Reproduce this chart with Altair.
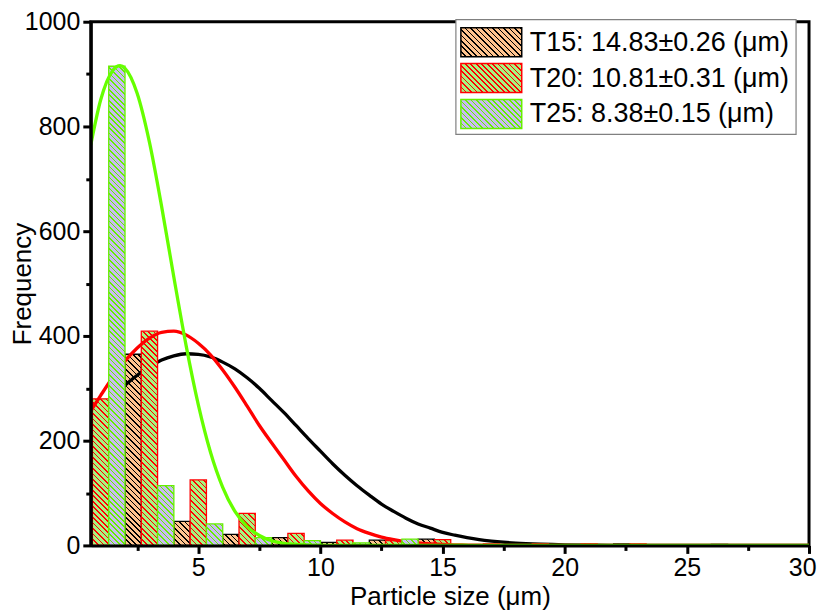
import altair as alt

# ---------------- data ----------------
bin_centers = [1.667, 3.667, 5.667, 7.667, 9.667, 11.667, 13.667,
               15.667, 17.667, 19.667, 21.667, 23.667, 25.667, 27.667]
t15_counts = [365, 46, 21, 15, 6, 10, 12, 1, 1, 0, 3, 0, 2, 0]
t20_counts = [280, 409, 125, 61, 23, 10, 9, 11, 3, 3, 3, 3, 0, 0]
t25_counts = [915, 114, 41, 15, 9, 5, 12, 2, 0, 0, 0, 0, 0, 0]

curve_x = [0.6, 1, 1.5, 1.8, 2, 2.5, 3, 3.5, 4, 4.5, 5, 5.5, 6, 6.5, 7, 7.5,
           8, 8.5, 9, 9.5, 10, 10.5, 11, 11.5, 12, 12.5, 13, 13.5, 14, 14.5,
           15, 15.5, 16, 16.5, 17, 18, 19, 20, 22, 24, 26, 28, 30]
t15_fit = [242, 261, 285, 298, 306, 325, 341, 354, 362, 366, 365, 360, 350, 337,
           320, 300, 277, 254, 229, 204, 180, 156, 134, 114, 96, 79, 65, 52, 41,
           33, 25, 19.5, 14.8, 11, 8.2, 4.3, 2.2, 1.0, 0.2, 0, 0, 0, 0]
t20_fit = [257, 286, 321, 340, 352, 377, 396, 407, 409, 402, 386, 364, 335, 302,
           266, 229, 196, 164, 132, 104, 80, 61, 45, 32, 23, 16, 11, 7, 4.6, 3,
           1.8, 1.1, 0.7, 0.4, 0.2, 0, 0, 0, 0, 0, 0, 0, 0]
t25_fit = [765, 850, 907, 916, 911, 863, 770, 647, 512, 382, 269, 178, 111, 65,
           36, 19, 9, 4, 2, 1, 0.3, 0.1, 0, 0, 0, 0, 0, 0, 0, 0, 0, 0, 0, 0, 0,
           0, 0, 0, 0, 0, 0, 0, 0]

legend_labels = ["T15: 14.83\u00b10.26 (\u03bcm)",
                 "T20: 10.81\u00b10.31 (\u03bcm)",
                 "T25: 8.38\u00b10.15 (\u03bcm)"]

x_major_ticks = [5, 10, 15, 20, 25, 30]
x_minor_ticks = [2.5, 7.5, 12.5, 17.5, 22.5, 27.5]
y_major_ticks = [0, 200, 400, 600, 800, 1000]
y_minor_ticks = [100, 300, 500, 700, 900]

# ---------------- layout / style ----------------
W, H = 720, 525
X_MIN, X_MAX, Y_MAX = 0.6, 30, 1000
PX_X = W / (X_MAX - X_MIN)
PX_Y = H / Y_MAX
BAR_W = 2 / 3
FONT = "Liberation Sans"

STYLE = {
    "T15": {"fill": "#FFC48F", "line": "#000000", "curve": "#000000", "slot": 2},
    "T20": {"fill": "#A6F580", "line": "#FF0000", "curve": "#FF0000", "slot": 0},
    "T25": {"fill": "#C8BBF2", "line": "#66EE00", "curve": "#66FF00", "slot": 1},
}

xs = alt.Scale(domain=[X_MIN, X_MAX], nice=False, zero=False)
ys = alt.Scale(domain=[0, Y_MAX], nice=False, zero=False)


def hatch_gradient(w, h, bg, fg, phase=0.0, period=5.5, thick=1.6):
    """Diagonal (\\) hatch as a hard-stop linear gradient in bbox units."""
    L = w + h
    k = L / (w * w + h * h)
    stops = [{"offset": 0.0, "color": bg}]
    s = (phase % period) - period
    while s < L + period:
        a, b = s - thick / 2, s + thick / 2
        if b > 0 and a < L:
            a2, b2 = max(a, 0.0) / L, min(b, L) / L
            a2, b2 = round(a2, 5), round(b2, 5)
            stops += [{"offset": a2, "color": bg}, {"offset": a2, "color": fg},
                      {"offset": b2, "color": fg}, {"offset": b2, "color": bg}]
        s += period
    stops.append({"offset": 1.0, "color": bg})
    return {"gradient": "linear", "x1": 0, "y1": 1,
            "x2": round(k * w, 6), "y2": round(1 - k * h, 6), "stops": stops}


def bar_layer(name, counts):
    st = STYLE[name]
    vals = []
    for c, v in zip(bin_centers, counts):
        if v <= 0:
            continue
        x0 = c - 1 + st["slot"] * BAR_W
        w = BAR_W * PX_X
        h = v * PX_Y
        xb = (x0 - X_MIN) * PX_X
        vals.append({"x0": x0, "x1": x0 + BAR_W, "count": v, "base": 0,
                     "grad": hatch_gradient(w, h, st["fill"], st["line"], phase=H - xb)})
    return alt.Chart(alt.Data(values=vals)).mark_rect(
        stroke=st["line"], strokeWidth=1.3
    ).encode(
        x=alt.X("x0:Q", scale=xs, axis=None),
        x2=alt.X2("x1"),
        y=alt.Y("count:Q", scale=ys, axis=None),
        y2=alt.Y2("base"),
        fill=alt.Fill("grad:N", scale=None, legend=None),
    )


def curve_layer(name, values):
    vals = [{"x": x, "y": y} for x, y in zip(curve_x, values)]
    return alt.Chart(alt.Data(values=vals)).mark_line(
        color=STYLE[name]["curve"], strokeWidth=3.3, interpolate="monotone", clip=True
    ).encode(
        x=alt.X("x:Q", scale=xs, axis=None),
        y=alt.Y("y:Q", scale=ys, axis=None),
    )


axis_data = alt.Data(values=[{"x": X_MIN, "y": 0}, {"x": X_MAX, "y": Y_MAX}])

x_major = alt.Axis(orient="bottom", values=x_major_ticks, title="Particle size (\u03bcm)",
                   tickSize=8, tickWidth=3, domainWidth=3, labelFontSize=25,
                   titleFontSize=26, titleFontWeight="normal", labelPadding=2,
                   labelFlush=True, labelFlushOffset=7, format="d",
                   titleX=360, titleY=59, titleAlign="center",
                   titleBaseline="alphabetic", zindex=1, grid=False)
y_major = alt.Axis(orient="left", values=y_major_ticks, title="Frequency", format="d",
                   tickSize=8, tickWidth=3, domainWidth=3, labelFontSize=25,
                   titleFontSize=26, titleFontWeight="normal", labelPadding=3,
                   labelFlush=False, titleX=-68.5, titleY=H / 2, titleAngle=270,
                   titleAlign="center", titleBaseline="middle", zindex=1, grid=False)
x_minor = alt.Axis(orient="bottom", values=x_minor_ticks, labels=False, domain=False,
                   tickSize=5, tickWidth=3, title=None, zindex=1, grid=False)
y_minor = alt.Axis(orient="left", values=y_minor_ticks, labels=False, domain=False,
                   tickSize=5, tickWidth=3, title=None, zindex=1, grid=False)

major = alt.Chart(axis_data).mark_point(opacity=0).encode(
    x=alt.X("x:Q", scale=xs, axis=x_major), y=alt.Y("y:Q", scale=ys, axis=y_major))
minor = alt.Chart(axis_data).mark_point(opacity=0).encode(
    x=alt.X("x:Q", scale=xs, axis=x_minor), y=alt.Y("y:Q", scale=ys, axis=y_minor))

# ---------------- custom legend ----------------
one = alt.Data(values=[{"k": 0}])
legend_layers = [
    alt.Chart(one).mark_rect(fill="white", stroke="#808080", strokeWidth=1.2).encode(
        x=alt.value(366), x2=alt.value(707), y=alt.value(-2), y2=alt.value(113))
]
for i, (name, label) in enumerate(zip(["T15", "T20", "T25"], legend_labels)):
    st = STYLE[name]
    top = 6 + 36 * i
    legend_layers.append(
        alt.Chart(one).mark_rect(
            fill=hatch_gradient(61, 29, st["fill"], st["line"]),
            stroke=st["line"], strokeWidth=1.5
        ).encode(x=alt.value(371), x2=alt.value(432), y=alt.value(top), y2=alt.value(top + 29))
    )
    legend_layers.append(
        alt.Chart(one).mark_text(align="left", baseline="middle", fontSize=27,
                                 font=FONT, color="black", text=label).encode(
            x=alt.value(440), y=alt.value(top + 15))
    )

chart = alt.layer(
    major, minor,
    bar_layer("T15", t15_counts), curve_layer("T15", t15_fit),
    bar_layer("T20", t20_counts), curve_layer("T20", t20_fit),
    bar_layer("T25", t25_counts), curve_layer("T25", t25_fit),
    *legend_layers,
).resolve_axis(x="independent", y="independent").properties(
    width=W, height=H,
    padding={"left": 83, "top": 13, "right": 8, "bottom": 68},
    autosize=alt.AutoSizeParams(type="none"),
).configure_view(stroke="black", strokeWidth=3).configure_axis(
    labelFont=FONT, titleFont=FONT, labelColor="black", titleColor="black",
    domainColor="black", tickColor="black"
)

chart.save("out.html", embed_options={"renderer": "svg", "actions": False})
